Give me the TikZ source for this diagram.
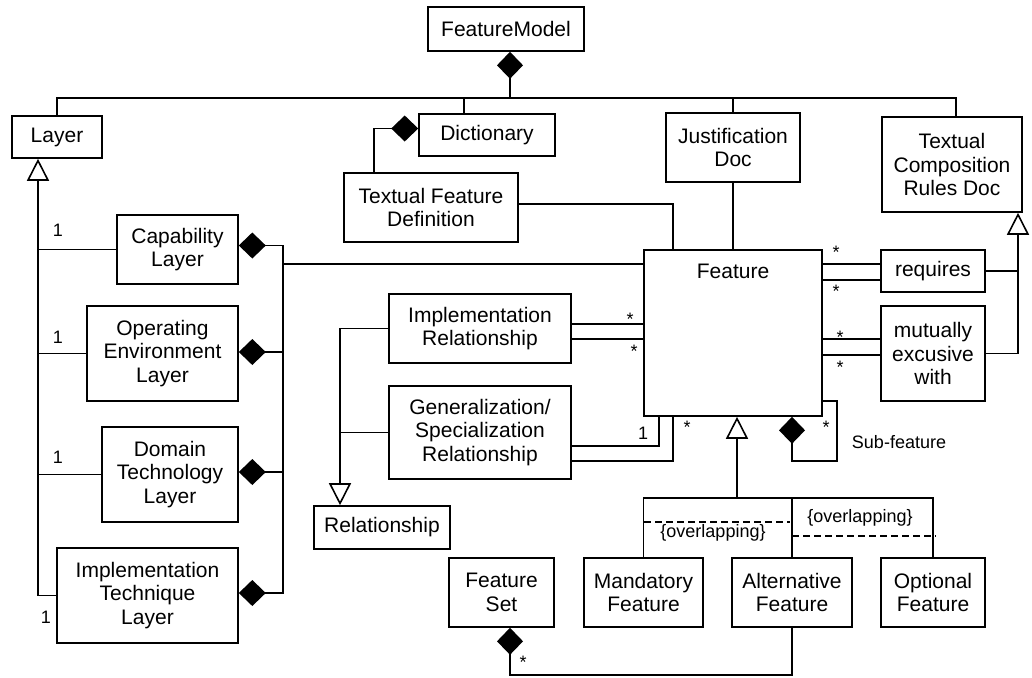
\documentclass[tikz,border=0pt]{standalone}
\usepackage{fontspec}
\setmainfont{Liberation Sans}
\usetikzlibrary{arrows.meta}

\begin{document}
\begin{tikzpicture}[x=1pt,y=-1pt,
  line width=1.6pt,
  box/.style={draw, fill=white, align=center, inner sep=0pt,
    font=\fontsize{21}{23.7}\selectfont},
  lbl/.style={inner sep=0pt, font=\fontsize{18}{20}\selectfont},
  mult/.style={inner sep=0pt, anchor=north, font=\fontsize{18}{20}\selectfont},
  comp/.style={{Diamond[length=27pt,width=26pt]}-},
  gen/.style={{Triangle[open,fill=white,length=22pt,width=22pt]}-},
  constraint/.style={line width=1.4pt, dash pattern=on 7pt off 4pt},
]
\fill[white] (0,0) rectangle (1032,677);
\useasboundingbox (0,0) rectangle (1032,677);

% classes
\node[box, minimum width=156pt, minimum height=44pt] (fm) at (506,29) {FeatureModel};
\node[box, minimum width=90pt, minimum height=42pt] (layer) at (57,137) {Layer};
\node[box, minimum width=136pt, minimum height=42pt] (dict) at (487,135) {Dictionary};
\node[box, minimum width=174pt, minimum height=69pt] (tfd) at (431,207.5) {Textual Feature\\Definition};
\node[box, minimum width=134pt, minimum height=69pt] (jdoc) at (733,147.5) {Justification\\Doc};
\node[box, minimum width=140pt, minimum height=95pt] (tcrd) at (952,164.5) {Textual\\Composition\\Rules Doc};
\node[box, minimum width=178pt, text height=28pt, text depth=138pt] (feat) at (733,333) {Feature};
\node[box, minimum width=104pt, minimum height=42pt] (req) at (933,271) {requires};
\node[box, minimum width=104pt, minimum height=95pt] (mut) at (933,353.5) {mutually\\excusive\\with};
\node[box, minimum width=182pt, minimum height=69pt] (ir) at (480,328.5) {Implementation\\Relationship};
\node[box, minimum width=182pt, minimum height=93pt] (gs) at (480,432.5) {Generalization/\\Specialization\\Relationship};
\node[box, minimum width=136pt, minimum height=43pt] (rel) at (382,527.5) {Relationship};
\node[box, minimum width=121pt, minimum height=69pt] (cap) at (177.5,249.5) {Capability\\Layer};
\node[box, minimum width=151pt, minimum height=95pt] (oe) at (162.5,353.5) {Operating\\Environment\\Layer};
\node[box, minimum width=136pt, minimum height=95pt] (dt) at (170,474.5) {Domain\\Technology\\Layer};
\node[box, minimum width=181pt, minimum height=95pt] (it) at (147.5,595.5) {Implementation\\Technique\\Layer};
\node[box, minimum width=105pt, minimum height=69pt] (fs) at (501.5,592.5) {Feature\\Set};
\node[box, minimum width=119pt, minimum height=69pt] (mf) at (643.5,592.5) {Mandatory\\Feature};
\node[box, minimum width=120pt, minimum height=69pt] (af) at (792,592.5) {Alternative\\Feature};
\node[box, minimum width=104pt, minimum height=69pt] (of) at (933,592.5) {Optional\\Feature};

% junction points
\coordinate (bus) at (510,98);
\coordinate (agg) at (283,264);
\coordinate (lv) at ([xshift=-19pt]layer.south);
\coordinate (rv) at ([xshift=-42pt]rel.north);
\coordinate (tv) at ([xshift=66pt]tcrd.south);
\coordinate (hj) at (737,498);
\coordinate (sfc) at (837,461);
\coordinate (fsb) at (700,675);

% FeatureModel composition
\draw[comp] ([xshift=4pt]fm.south) -- (bus);
\draw (layer.north) |- (bus);
\draw (bus) -| ([xshift=4pt]tcrd.north);
\draw ([xshift=-23pt]dict.north) -- ([xshift=-23pt]dict.north |- bus);
\draw (jdoc.north) -- (jdoc.north |- bus);

% dictionary and definitions
\draw[comp] ([yshift=6.5pt]dict.west) -| ([xshift=-57pt]tfd.north);
\draw ([yshift=3.5pt]tfd.east) -| ([xshift=-60pt]feat.north);
\draw (jdoc.south) -- (jdoc.south |- feat.north);

% layers
\draw[comp] ([yshift=4pt]cap.east) -| (agg);
\draw[comp] ([yshift=1.5pt]oe.east) -| (agg);
\draw[comp] ([yshift=2.5pt]dt.east) -| (agg);
\draw[comp] ([yshift=2.5pt]it.east) -| (agg);
\draw (agg) -- (agg -| feat.west);
\draw[gen] (lv) |- (it.west);
\draw (cap.west) -- (cap.west -| lv);
\draw (oe.west) -- (oe.west -| lv);
\draw (dt.west) -- (dt.west -| lv);
\node[lbl] at (58,230) {1};
\node[lbl] at (58,337) {1};
\node[lbl] at (58,457) {1};
\node[lbl] at (46,617) {1};

% dependencies between features
\draw ([yshift=7pt]req.west) -- ([yshift=7pt]req.west -| feat.east);
\draw ([yshift=-9pt]req.west) -- ([yshift=-9pt]req.west -| feat.east);
\draw ([yshift=14.5pt]mut.west) -- ([yshift=14.5pt]mut.west -| feat.east);
\draw ([yshift=-1.5pt]mut.west) -- ([yshift=-1.5pt]mut.west -| feat.east);
\draw[gen] (tv) |- (mut.east);
\draw (req.east) -- (req.east -| tv);
\node[mult] at (836,245) {*};
\node[mult] at (836,284) {*};
\node[mult] at (840,330) {*};
\node[mult] at (840,360) {*};

% sub-features
\draw[comp] ([xshift=59pt]feat.south) |- (sfc) |- ([yshift=-68pt]feat.east);
\node[mult] at (826,420) {*};
\node[lbl] at (899,442) {Sub-feature};

% relationships
\draw ([yshift=4.5pt]ir.east) -- ([yshift=4.5pt]ir.east -| feat.west);
\draw ([yshift=-10.5pt]ir.east) -- ([yshift=-10.5pt]ir.east -| feat.west);
\node[mult] at (630,312) {*};
\node[mult] at (634,344) {*};
\draw ([yshift=-13.5pt]gs.east) -| ([xshift=-74pt]feat.south);
\draw ([yshift=-28.5pt]gs.east) -| ([xshift=-60pt]feat.south);
\node[lbl] at (643,433) {1};
\node[mult] at (687,420) {*};
\draw[gen] (rv) |- (ir.west);
\draw (gs.west) -- (gs.west -| rv);

% feature kinds
\draw[gen] ([xshift=4pt]feat.south) -- (hj);
\draw (mf.north) |- (hj) -| (of.north);
\draw (af.north) -- (af.north |- hj);
\draw[constraint] (644,522) -- (790,522);
\draw[constraint] (792,536) -- (936,536);
\node[lbl] at (713,533) {\{overlapping\}};
\node[lbl] at (860,518) {\{overlapping\}};

% feature sets
\draw[comp] ([xshift=8.5pt]fs.south) |- (fsb) -| (af.south);
\node[mult] at (523,655) {*};
\end{tikzpicture}
\end{document}
